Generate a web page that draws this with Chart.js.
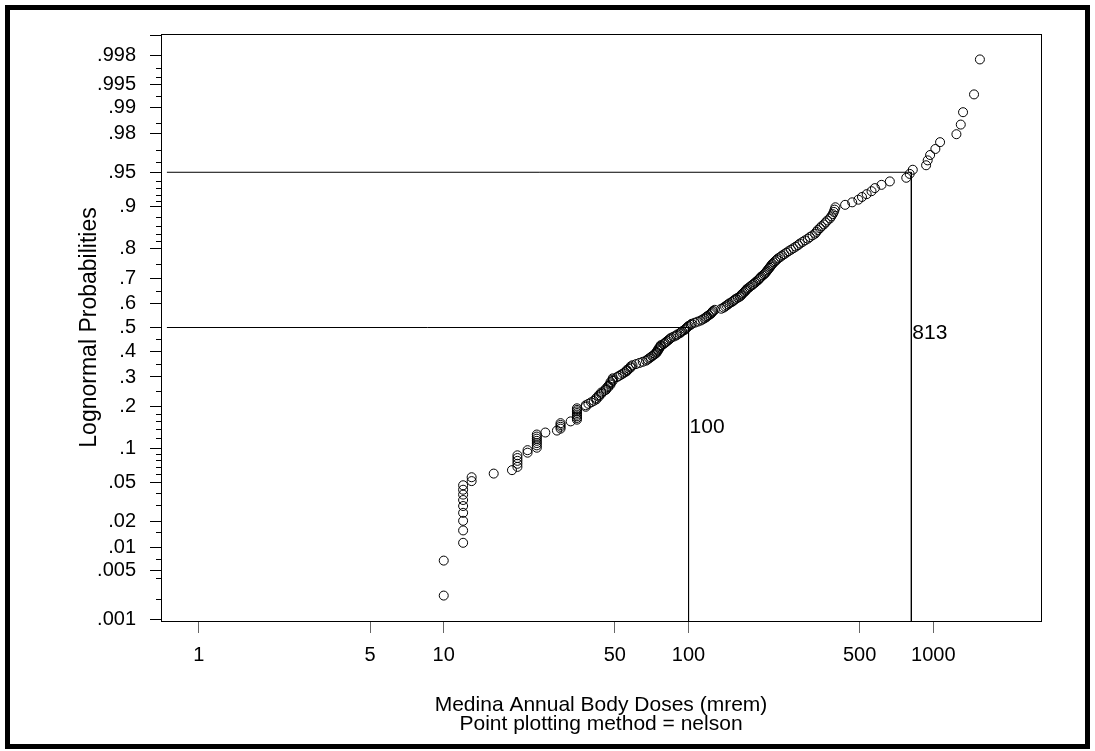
<!DOCTYPE html>
<html>
<head>
<meta charset="utf-8">
<script src="https://cdn.jsdelivr.net/npm/chart.js@4.4.1/dist/chart.umd.min.js"></script>
<style>
html, body { margin: 0; padding: 0; background: #fff; }
</style>
</head>
<body>
<canvas id="probPlot" width="1095" height="751"></canvas>
<script>
// sorted annual body doses (mrem)
const doses = [
10, 10, 12, 12, 12, 12, 12, 12, 12, 12, 12, 13, 13, 16, 19, 20, 20, 20, 20, 20,
22, 22, 24, 24, 24, 24, 24, 24, 24, 26, 29, 30, 30, 30, 30, 33, 35, 35, 35, 35,
35, 35, 35, 35, 38, 38, 39, 40, 41, 42, 42, 43, 43, 44, 44, 45, 46, 46, 47, 47,
48, 48, 48, 49, 49, 49, 51, 52, 53, 54, 55, 56, 56, 57, 58, 58, 59, 61, 63, 65,
67, 68, 69, 70, 71, 72, 73, 74, 74, 75, 75, 76, 76, 77, 77, 79, 80, 81, 82, 83,
84, 85, 87, 89, 90, 92, 93, 94, 96, 97, 98, 99, 100, 102, 103, 106, 109, 112, 114, 116,
118, 119, 121, 123, 124, 125, 126, 128, 136, 139, 141, 143, 145, 147, 150, 152, 154, 156, 159, 162,
164, 165, 167, 169, 171, 172, 174, 177, 179, 182, 184, 187, 189, 192, 194, 196, 198, 201, 204, 206,
208, 210, 212, 214, 216, 218, 220, 223, 226, 229, 232, 237, 241, 246, 251, 256, 262, 268, 274, 280,
285, 292, 299, 307, 313, 321, 329, 333, 337, 344, 349, 357, 363, 369, 378, 383, 388, 392, 395, 398,
436, 466, 494, 511, 534, 559, 577, 614, 664, 775, 800, 824, 934, 948, 970, 1019, 1065, 1242, 1294, 1322,
1466, 1549
];

const xTicks = [1, 5, 10, 50, 100, 500, 1000];
const xTickLabels = ["1", "5", "10", "50", "100", "500", "1000"];
const yTickProbs = [.001, .005, .01, .02, .05, .1, .2, .3, .4, .5, .6, .7, .8, .9, .95, .98, .99, .995, .998, .999];
const yTickLabels = [".001", ".005", ".01", ".02", ".05", ".1", ".2", ".3", ".4", ".5", ".6", ".7", ".8", ".9", ".95", ".98", ".99", ".995", ".998", ""];
const yMinorProbs = [.002, .004, .007, .015, .03, .04, .06, .07, .08, .09, .12, .14, .16, .18, .25, .35, .45,
  .65, .75, .82, .84, .86, .88, .91, .92, .93, .94, .96, .97, .985, .993, .996, .997];

// reference lines: median dose and 95th percentile
const refDoses = [100, 813];
const refProbs = [.5, .95];
const refLabels = ["100", "813"];
const refLabelProbs = [.145, .475];

// inverse normal cdf (Acklam)
function probit(p) {
const a = [-3.969683028665376e+01, 2.209460984245205e+02, -2.759285104469687e+02, 1.383577518672690e+02, -3.066479806614716e+01, 2.506628277459239e+00];
const b = [-5.447609879822406e+01, 1.615858368580409e+02, -1.556989798598866e+02, 6.680131188771972e+01, -1.328068155288572e+01];
const c = [-7.784894002430293e-03, -3.223964580411365e-01, -2.400758277161838e+00, -2.549732539343734e+00, 4.374664141464968e+00, 2.938163982698783e+00];
const d = [7.784695709041462e-03, 3.224671290700398e-01, 2.445134137142996e+00, 3.754408661907416e+00];
const pl = 0.02425;
let q, r;
if (p < pl) {
q = Math.sqrt(-2 * Math.log(p));
return (((((c[0]*q+c[1])*q+c[2])*q+c[3])*q+c[4])*q+c[5]) / ((((d[0]*q+d[1])*q+d[2])*q+d[3])*q+1);
}
if (p > 1 - pl) {
q = Math.sqrt(-2 * Math.log(1 - p));
return -(((((c[0]*q+c[1])*q+c[2])*q+c[3])*q+c[4])*q+c[5]) / ((((d[0]*q+d[1])*q+d[2])*q+d[3])*q+1);
}
q = p - 0.5; r = q * q;
return (((((a[0]*r+a[1])*r+a[2])*r+a[3])*r+a[4])*r+a[5])*q / (((((b[0]*r+b[1])*r+b[2])*r+b[3])*r+b[4])*r+1);
}

const X_MIN = 0.74, X_MAX = 2752;
const Z_MIN = -3.11, Z_MAX = 3.11;
const FONT = "'Liberation Sans', Arial, sans-serif";

// nelson plotting positions from rank
const n = doses.length;
const points = doses.map((v, i) => ({ x: v, y: probit((i + 0.5) / n) }));

const refSets = refDoses.map((v, k) => ({
data: [
{ x: X_MIN, y: probit(refProbs[k]) },
{ x: v, y: probit(refProbs[k]) },
{ x: v, y: Z_MIN }
],
showLine: true,
borderColor: "#000",
borderWidth: 1,
pointRadius: 0,
fill: false
}));

const extras = {
id: "extras",
beforeDraw(chart) {
const ctx = chart.ctx;
ctx.save();
ctx.fillStyle = "#fff";
ctx.fillRect(0, 0, chart.width, chart.height);
ctx.restore();
},
afterDraw(chart) {
const ctx = chart.ctx;
const { left, top, right, bottom } = chart.chartArea;
const xs = chart.scales.x, ys = chart.scales.y;
ctx.save();
// plot frame
ctx.strokeStyle = "#000";
ctx.lineWidth = 1;
ctx.strokeRect(left + 0.5, top + 0.5, right - left, bottom - top);
// minor y ticks
ctx.beginPath();
yMinorProbs.forEach(p => {
const y = Math.round(ys.getPixelForValue(probit(p))) + 0.5;
ctx.moveTo(left - 5, y);
ctx.lineTo(left, y);
});
ctx.stroke();
// reference labels
ctx.fillStyle = "#000";
ctx.font = "21px " + FONT;
ctx.textAlign = "left";
ctx.textBaseline = "middle";
refDoses.forEach((v, k) => {
ctx.fillText(refLabels[k], xs.getPixelForValue(v) + 1, ys.getPixelForValue(probit(refLabelProbs[k])));
});
// outer frame
ctx.lineWidth = 5;
ctx.strokeRect(7.5, 7.5, chart.width - 15, chart.height - 12);
ctx.restore();
}
};

new Chart(document.getElementById("probPlot"), {
type: "scatter",
data: {
datasets: [
{
data: points,
pointStyle: "circle",
pointRadius: 4.5,
pointBorderWidth: 1,
borderColor: "#000",
backgroundColor: "rgba(0,0,0,0)",
showLine: false
},
...refSets
]
},
options: {
responsive: false,
animation: false,
layout: { padding: { left: 0, top: 34, right: 54, bottom: 0 } },
plugins: {
legend: { display: false },
tooltip: { enabled: false }
},
scales: {
x: {
type: "logarithmic",
min: X_MIN,
max: X_MAX,
afterBuildTicks: (scale) => { scale.ticks = xTicks.map(v => ({ value: v })); },
afterFit: (scale) => { scale.height = 130; },
ticks: {
autoSkip: false,
maxRotation: 0,
padding: 10,
color: "#000",
font: { family: FONT, size: 20 },
callback: (v, i) => xTickLabels[i]
},
grid: { display: true, drawOnChartArea: false, drawTicks: true, tickLength: 12, color: "#666" },
border: { display: true, color: "#000", width: 1 },
title: {
display: true,
text: ["Medina Annual Body Doses (mrem)", "Point plotting method = nelson"],
color: "#000",
font: { family: FONT, size: 21, lineHeight: 0.9 },
padding: { top: 0, bottom: 17 }
}
},
y: {
type: "linear",
min: Z_MIN,
max: Z_MAX,
afterBuildTicks: (scale) => { scale.ticks = yTickProbs.map(p => ({ value: probit(p) })); },
afterFit: (scale) => { scale.width = 161; },
ticks: {
autoSkip: false,
padding: 14,
color: "#000",
font: { family: FONT, size: 20 },
callback: (v, i) => yTickLabels[i]
},
grid: { display: true, drawOnChartArea: false, drawTicks: true, tickLength: 11, color: "#000" },
border: { display: true, color: "#000", width: 1 },
title: {
display: true,
text: "Lognormal Probabilities",
color: "#000",
font: { family: FONT, size: 23, lineHeight: 1.2 },
padding: { top: 76, bottom: 0 }
}
}
}
},
plugins: [extras]
});
</script>
</body>
</html>
